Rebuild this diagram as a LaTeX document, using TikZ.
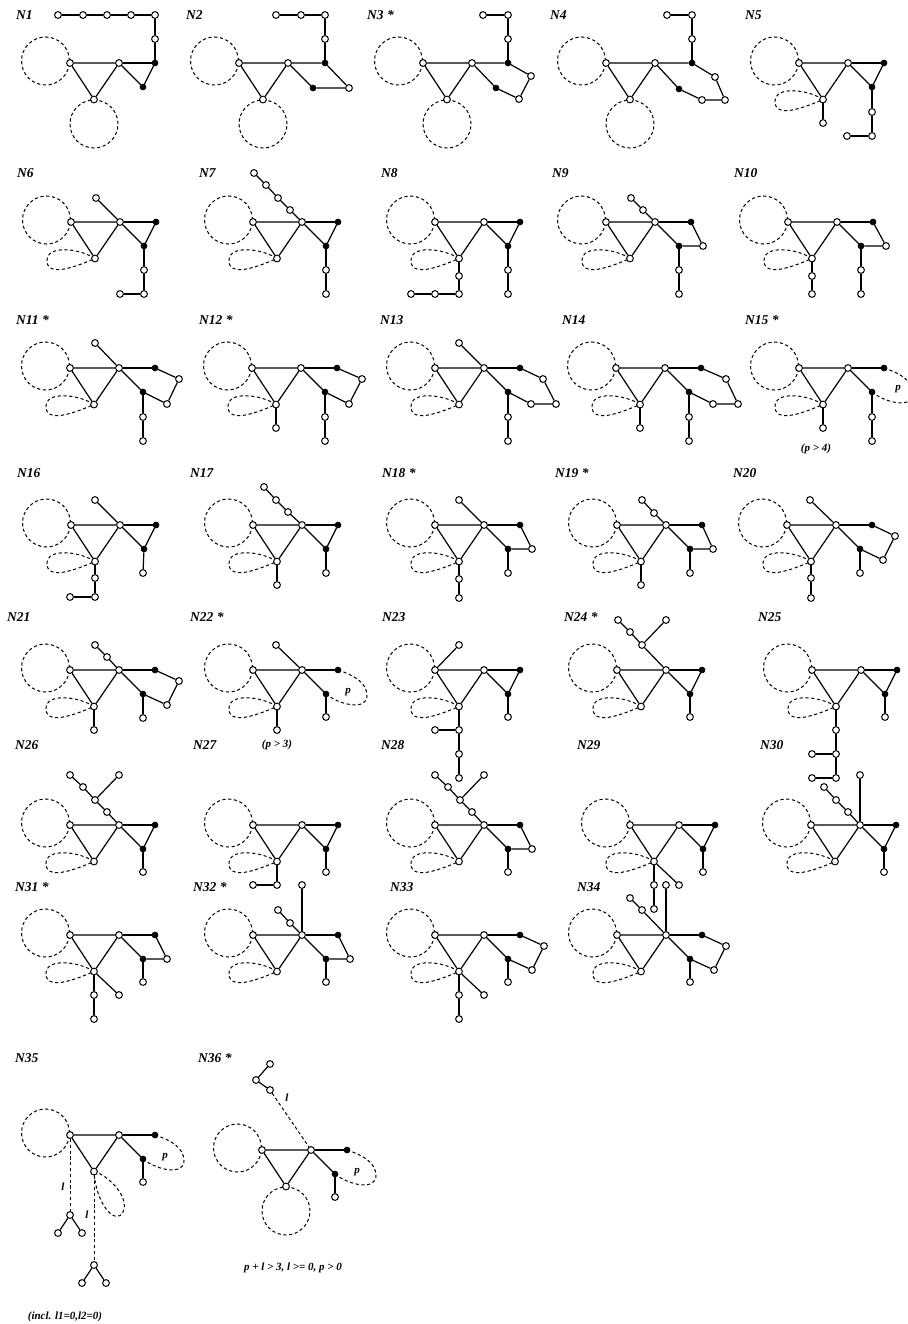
\documentclass[tikz,border=0pt]{standalone}
\usepackage{fontspec}
\setmainfont{Liberation Serif}
\tikzset{
  w/.style={circle,draw,fill=white,inner sep=0pt,minimum size=6.8pt,line width=1pt},
  bk/.style={circle,fill=black,draw=black,inner sep=0pt,minimum size=6pt,line width=0.6pt},
  e/.style={line width=1.2pt},
  dsh/.style={line width=1pt,dash pattern=on 3.2pt off 2.6pt},
  lab/.style={anchor=west,font=\fontsize{13.5}{15}\selectfont\bfseries\itshape,inner sep=0pt},
  note/.style={font=\fontsize{11}{13}\selectfont\bfseries\itshape,inner sep=0pt},
}
\newcommand\wn[3]{\node[w] (#1) at (#2,#3) {};}
\newcommand\bn[3]{\node[bk] (#1) at (#2,#3) {};}
\newcommand\ed[2]{\draw[e] (#1) -- (#2);}
\newcommand\tri[1]{\wn{#1a}{0}{0}\wn{#1b}{49}{0}\wn{#1c}{24}{36.5}%
  \draw[e] (#1a) -- (#1b) -- (#1c) -- (#1a);}
\newcommand\de[1]{\bn{#1d}{85}{0}\bn{#1e}{73}{24}\ed{#1b}{#1d}\ed{#1b}{#1e}}
\newcommand\lcirc{\draw[dsh] (-24.5,-2) circle[radius=24pt];}
\newcommand\bcirc{\draw[dsh] (24,61) circle[radius=24pt];}
\newcommand\tdrop{\draw[dsh] (24,36.5) .. controls (9,26.5) and (-24,22.5) .. (-24,38.5) .. controls (-24,52.5) and (-6,49.5) .. (24,36.5);}
\newcommand\ploop{\draw[dsh] (85,0) .. controls (100,5) and (114,12) .. (114,26) .. controls (114,40) and (88,36) .. (73,24);}
\begin{document}
\begin{tikzpicture}[x=1pt,y=-1pt]
\useasboundingbox (0,0) rectangle (907,1324);
% ---------------- Row 1
\begin{scope}[shift={(70,63)}]
\lcirc\bcirc\tri{p1}\de{p1}\ed{p1d}{p1e}
\wn{p1f}{85}{-24}\wn{p1g}{85}{-48}\wn{p1h}{61}{-48}\wn{p1i}{37}{-48}\wn{p1j}{13}{-48}\wn{p1k}{-12}{-48}
\draw[e] (p1d)--(p1f)--(p1g)--(p1h)--(p1i)--(p1j)--(p1k);
\end{scope}
\node[lab] (t1) at (16,15) {N1};
\begin{scope}[shift={(239,63)}]
\lcirc\bcirc\tri{p2}\bn{p2d}{86}{0}\bn{p2e}{74}{25}\wn{p2w}{110}{25}
\wn{p2f}{86}{-24}\wn{p2g}{86}{-48}\wn{p2h}{62}{-48}\wn{p2i}{37}{-48}
\draw[e] (p2b)--(p2d)--(p2w)--(p2e)--(p2b);
\draw[e] (p2d)--(p2f)--(p2g)--(p2h)--(p2i);
\end{scope}
\node[lab] (t2) at (186,15) {N2};
\begin{scope}[shift={(423,63)}]
\lcirc\bcirc\tri{p3}\bn{p3d}{85}{0}\bn{p3e}{73}{25}\wn{p3x}{108}{13}\wn{p3y}{96}{36}
\wn{p3f}{85}{-24}\wn{p3g}{85}{-48}\wn{p3h}{60}{-48}
\draw[e] (p3b)--(p3d)--(p3x)--(p3y)--(p3e)--(p3b);
\draw[e] (p3d)--(p3f)--(p3g)--(p3h);
\end{scope}
\node[lab] (t3) at (367,15) {N3 *};
\begin{scope}[shift={(606,63)}]
\lcirc\bcirc\tri{p4}\bn{p4d}{86}{0}\bn{p4e}{73}{26}\wn{p4x}{109}{14}\wn{p4y}{119}{37}\wn{p4z}{96}{37}
\wn{p4f}{86}{-24}\wn{p4g}{86}{-48}\wn{p4h}{61}{-48}
\draw[e] (p4b)--(p4d)--(p4x)--(p4y)--(p4z)--(p4e)--(p4b);
\draw[e] (p4d)--(p4f)--(p4g)--(p4h);
\end{scope}
\node[lab] (t4) at (550,15) {N4};
\begin{scope}[shift={(799,63)}]
\lcirc\tdrop\tri{p5}\de{p5}\ed{p5d}{p5e}
\wn{p5f}{73}{49}\wn{p5g}{73}{73}\wn{p5h}{48}{73}\wn{p5c1}{24}{60}
\draw[e] (p5e)--(p5f)--(p5g)--(p5h); \ed{p5c}{p5c1}
\end{scope}
\node[lab] (t5) at (745,15) {N5};
% ---------------- Row 2
\begin{scope}[shift={(71,222)}]
\lcirc\tdrop\tri{p6}\de{p6}\ed{p6d}{p6e}
\wn{p6u}{25}{-24}\ed{p6b}{p6u}
\wn{p6f}{73}{48}\wn{p6g}{73}{72}\wn{p6h}{49}{72}
\draw[e] (p6e)--(p6f)--(p6g)--(p6h);
\end{scope}
\node[lab] (t6) at (17,173) {N6};
\begin{scope}[shift={(253,222)}]
\lcirc\tdrop\tri{p7}\de{p7}\ed{p7d}{p7e}
\wn{p7u}{37}{-12}\wn{p7v}{25}{-24}\wn{p7x}{13}{-37}\wn{p7y}{1}{-49}
\draw[e] (p7b)--(p7u)--(p7v)--(p7x)--(p7y);
\wn{p7f}{73}{48}\wn{p7g}{73}{72}
\draw[e] (p7e)--(p7f)--(p7g);
\end{scope}
\node[lab] (t7) at (199,173) {N7};
\begin{scope}[shift={(435,222)}]
\lcirc\tdrop\tri{p8}\de{p8}\ed{p8d}{p8e}
\wn{p8f}{73}{48}\wn{p8g}{73}{72}
\draw[e] (p8e)--(p8f)--(p8g);
\wn{p8h}{24}{54}\wn{p8i}{24}{72}\wn{p8j}{0}{72}\wn{p8k}{-24}{72}
\draw[e] (p8c)--(p8h)--(p8i)--(p8j)--(p8k);
\end{scope}
\node[lab] (t8) at (381,173) {N8};
\begin{scope}[shift={(606,222)}]
\lcirc\tdrop\tri{p9}\de{p9}\wn{p9w}{97}{24}
\draw[e] (p9d)--(p9w)--(p9e);
\wn{p9u}{37}{-12}\wn{p9v}{25}{-24}
\draw[e] (p9b)--(p9u)--(p9v);
\wn{p9f}{73}{48}\wn{p9g}{73}{72}
\draw[e] (p9e)--(p9f)--(p9g);
\end{scope}
\node[lab] (t9) at (552,173) {N9};
\begin{scope}[shift={(788,222)}]
\lcirc\tdrop\tri{p10}\de{p10}\wn{p10w}{98}{24}
\draw[e] (p10d)--(p10w)--(p10e);
\wn{p10f}{73}{48}\wn{p10g}{73}{72}
\draw[e] (p10e)--(p10f)--(p10g);
\wn{p10h}{24}{54}\wn{p10i}{24}{72}
\draw[e] (p10c)--(p10h)--(p10i);
\end{scope}
\node[lab] (t10) at (734,173) {N10};
% ---------------- Row 3
\begin{scope}[shift={(70,368)}]
\lcirc\tdrop\tri{p11}\de{p11}\wn{p11x}{109}{11}\wn{p11y}{97}{36}
\draw[e] (p11d)--(p11x)--(p11y)--(p11e);
\wn{p11u}{25}{-25}\ed{p11b}{p11u}
\wn{p11f}{73}{49}\wn{p11g}{73}{73}
\draw[e] (p11e)--(p11f)--(p11g);
\end{scope}
\node[lab] (t11) at (16,320) {N11 *};
\begin{scope}[shift={(252,368)}]
\lcirc\tdrop\tri{p12}\de{p12}\wn{p12x}{110}{11}\wn{p12y}{97}{36}
\draw[e] (p12d)--(p12x)--(p12y)--(p12e);
\wn{p12f}{73}{49}\wn{p12g}{73}{73}
\draw[e] (p12e)--(p12f)--(p12g);
\wn{p12h}{24}{60}\ed{p12c}{p12h}
\end{scope}
\node[lab] (t12) at (199,320) {N12 *};
\begin{scope}[shift={(435,368)}]
\lcirc\tdrop\tri{p13}\de{p13}\wn{p13x}{108}{11}\wn{p13y}{121}{36}\wn{p13z}{96}{36}
\draw[e] (p13d)--(p13x)--(p13y)--(p13z)--(p13e);
\wn{p13u}{24}{-25}\ed{p13b}{p13u}
\wn{p13f}{73}{49}\wn{p13g}{73}{73}
\draw[e] (p13e)--(p13f)--(p13g);
\end{scope}
\node[lab] (t13) at (380,320) {N13};
\begin{scope}[shift={(616,368)}]
\lcirc\tdrop\tri{p14}\de{p14}\wn{p14x}{110}{11}\wn{p14y}{122}{36}\wn{p14z}{97}{36}
\draw[e] (p14d)--(p14x)--(p14y)--(p14z)--(p14e);
\wn{p14f}{73}{49}\wn{p14g}{73}{73}
\draw[e] (p14e)--(p14f)--(p14g);
\wn{p14h}{24}{60}\ed{p14c}{p14h}
\end{scope}
\node[lab] (t14) at (562,320) {N14};
\begin{scope}[shift={(799,368)}]
\lcirc\tdrop\ploop\tri{p15}\de{p15}
\node[note] (p15p) at (99,21) {p};
\wn{p15f}{73}{49}\wn{p15g}{73}{73}
\draw[e] (p15e)--(p15f)--(p15g);
\wn{p15h}{24}{60}\ed{p15c}{p15h}
\node[note] (p15n) at (17,81) {(p > 4)};
\end{scope}
\node[lab] (t15) at (745,320) {N15 *};
% ---------------- Row 4
\begin{scope}[shift={(71,525)}]
\lcirc\tdrop\tri{p16}\de{p16}\ed{p16d}{p16e}
\wn{p16u}{24}{-25}\ed{p16b}{p16u}
\wn{p16f}{72}{48}\ed{p16e}{p16f}
\wn{p16h}{24}{53}\wn{p16i}{24}{72}\wn{p16j}{-1}{72}
\draw[e] (p16c)--(p16h)--(p16i)--(p16j);
\end{scope}
\node[lab] (t16) at (17,473) {N16};
\begin{scope}[shift={(253,525)}]
\lcirc\tdrop\tri{p17}\de{p17}\ed{p17d}{p17e}
\wn{p17u}{35}{-13}\wn{p17v}{23}{-25}\wn{p17x}{11}{-38}
\draw[e] (p17b)--(p17u)--(p17v)--(p17x);
\wn{p17f}{73}{48}\ed{p17e}{p17f}
\wn{p17h}{24}{60}\ed{p17c}{p17h}
\end{scope}
\node[lab] (t17) at (190,473) {N17};
\begin{scope}[shift={(435,525)}]
\lcirc\tdrop\tri{p18}\de{p18}\wn{p18w}{97}{24}
\draw[e] (p18d)--(p18w)--(p18e);
\wn{p18u}{24}{-25}\ed{p18b}{p18u}
\wn{p18f}{73}{48}\ed{p18e}{p18f}
\wn{p18h}{24}{54}\wn{p18i}{24}{73}
\draw[e] (p18c)--(p18h)--(p18i);
\end{scope}
\node[lab] (t18) at (382,473) {N18 *};
\begin{scope}[shift={(617,525)}]
\lcirc\tdrop\tri{p19}\de{p19}\wn{p19w}{96}{24}
\draw[e] (p19d)--(p19w)--(p19e);
\wn{p19u}{37}{-12}\wn{p19v}{25}{-25}
\draw[e] (p19b)--(p19u)--(p19v);
\wn{p19f}{73}{48}\ed{p19e}{p19f}
\wn{p19h}{24}{60}\ed{p19c}{p19h}
\end{scope}
\node[lab] (t19) at (555,473) {N19 *};
\begin{scope}[shift={(787,525)}]
\lcirc\tdrop\tri{p20}\de{p20}\wn{p20x}{108}{11}\wn{p20y}{96}{35}
\draw[e] (p20d)--(p20x)--(p20y)--(p20e);
\wn{p20u}{23}{-25}\ed{p20b}{p20u}
\wn{p20f}{73}{48}\ed{p20e}{p20f}
\wn{p20h}{24}{53}\wn{p20i}{24}{73}
\draw[e] (p20c)--(p20h)--(p20i);
\end{scope}
\node[lab] (t20) at (733,473) {N20};
% ---------------- Row 5
\begin{scope}[shift={(70,670)}]
\lcirc\tdrop\tri{p21}\de{p21}\wn{p21x}{109}{11}\wn{p21y}{97}{35}
\draw[e] (p21d)--(p21x)--(p21y)--(p21e);
\wn{p21u}{37}{-13}\wn{p21v}{25}{-25}
\draw[e] (p21b)--(p21u)--(p21v);
\wn{p21f}{73}{48}\ed{p21e}{p21f}
\wn{p21h}{24}{60}\ed{p21c}{p21h}
\end{scope}
\node[lab] (t21) at (7,617) {N21};
\begin{scope}[shift={(253,670)}]
\lcirc\tdrop\ploop\tri{p22}\de{p22}
\node[note] (p22p) at (95,22) {p};
\wn{p22u}{23}{-25}\ed{p22b}{p22u}
\wn{p22f}{73}{47}\ed{p22e}{p22f}
\wn{p22h}{24}{60}\ed{p22c}{p22h}
\node[note] (p22n) at (24,75) {(p > 3)};
\end{scope}
\node[lab] (t22) at (190,617) {N22 *};
\begin{scope}[shift={(435,670)}]
\lcirc\tdrop\tri{p23}\de{p23}\ed{p23d}{p23e}
\wn{p23u}{24}{-25}\ed{p23a}{p23u}
\wn{p23f}{73}{47}\ed{p23e}{p23f}
\wn{p23h}{24}{60}\wn{p23j}{0}{60}\wn{p23i}{24}{84}\wn{p23k}{24}{108}
\draw[e] (p23c)--(p23h)--(p23i)--(p23k); \ed{p23h}{p23j}
\end{scope}
\node[lab] (t23) at (382,617) {N23};
\begin{scope}[shift={(617,670)}]
\lcirc\tdrop\tri{p24}\de{p24}\ed{p24d}{p24e}
\wn{p24y}{25}{-25}\wn{p24u}{13}{-38}\wn{p24v}{1}{-50}\wn{p24r}{49}{-50}
\draw[e] (p24b)--(p24y)--(p24u)--(p24v); \ed{p24y}{p24r}
\wn{p24f}{73}{47}\ed{p24e}{p24f}
\end{scope}
\node[lab] (t24) at (564,617) {N24 *};
\begin{scope}[shift={(812,670)}]
\lcirc\tdrop\tri{p25}\de{p25}\ed{p25d}{p25e}
\wn{p25f}{73}{47}\ed{p25e}{p25f}
\wn{p25h}{24}{60}\wn{p25i}{24}{84}\wn{p25k}{24}{108}\wn{p25j}{0}{84}\wn{p25l}{0}{108}
\draw[e] (p25c)--(p25h)--(p25i)--(p25k); \ed{p25i}{p25j}\ed{p25k}{p25l}
\end{scope}
\node[lab] (t25) at (758,617) {N25};
% ---------------- Row 6
\begin{scope}[shift={(70,825)}]
\lcirc\tdrop\tri{p26}\de{p26}\ed{p26d}{p26e}
\wn{p26s}{37}{-13}\wn{p26y}{25}{-25}\wn{p26u}{13}{-38}\wn{p26v}{0}{-50}\wn{p26r}{49}{-50}
\draw[e] (p26b)--(p26s)--(p26y)--(p26u)--(p26v); \ed{p26y}{p26r}
\wn{p26f}{73}{47}\ed{p26e}{p26f}
\end{scope}
\node[lab] (t26) at (15,745) {N26};
\begin{scope}[shift={(253,825)}]
\lcirc\tdrop\tri{p27}\de{p27}\ed{p27d}{p27e}
\wn{p27f}{73}{47}\ed{p27e}{p27f}
\wn{p27h}{24}{60}\wn{p27j}{0}{60}
\draw[e] (p27c)--(p27h)--(p27j);
\end{scope}
\node[lab] (t27) at (193,745) {N27};
\begin{scope}[shift={(435,825)}]
\lcirc\tdrop\tri{p28}\de{p28}\wn{p28w}{97}{24}
\draw[e] (p28d)--(p28w)--(p28e);
\wn{p28s}{37}{-13}\wn{p28y}{25}{-25}\wn{p28u}{13}{-38}\wn{p28v}{0}{-50}\wn{p28r}{49}{-50}
\draw[e] (p28b)--(p28s)--(p28y)--(p28u)--(p28v); \ed{p28y}{p28r}
\wn{p28f}{73}{47}\ed{p28e}{p28f}
\end{scope}
\node[lab] (t28) at (381,745) {N28};
\begin{scope}[shift={(630,825)}]
\lcirc\tdrop\tri{p29}\de{p29}\ed{p29d}{p29e}
\wn{p29f}{73}{47}\ed{p29e}{p29f}
\wn{p29h}{24}{60}\wn{p29i}{24}{84}\wn{p29j}{49}{60}
\draw[e] (p29c)--(p29h)--(p29i); \ed{p29c}{p29j}
\end{scope}
\node[lab] (t29) at (577,745) {N29};
\begin{scope}[shift={(811,825)}]
\lcirc\tdrop\tri{p30}\de{p30}\ed{p30d}{p30e}
\wn{p30u}{37}{-13}\wn{p30v}{25}{-25}\wn{p30x}{13}{-38}\wn{p30r}{49}{-50}
\draw[e] (p30b)--(p30u)--(p30v)--(p30x); \ed{p30b}{p30r}
\wn{p30f}{73}{47}\ed{p30e}{p30f}
\end{scope}
\node[lab] (t30) at (760,745) {N30};
% ---------------- Row 7
\begin{scope}[shift={(70,935)}]
\lcirc\tdrop\tri{p31}\de{p31}\wn{p31w}{97}{24}
\draw[e] (p31d)--(p31w)--(p31e);
\wn{p31f}{73}{47}\ed{p31e}{p31f}
\wn{p31h}{24}{60}\wn{p31i}{24}{84}\wn{p31j}{49}{60}
\draw[e] (p31c)--(p31h)--(p31i); \ed{p31c}{p31j}
\end{scope}
\node[lab] (t31) at (15,887) {N31 *};
\begin{scope}[shift={(253,935)}]
\lcirc\tdrop\tri{p32}\de{p32}\wn{p32w}{97}{24}
\draw[e] (p32d)--(p32w)--(p32e);
\wn{p32u}{37}{-12}\wn{p32v}{25}{-25}\wn{p32r}{49}{-50}
\draw[e] (p32b)--(p32u)--(p32v); \ed{p32b}{p32r}
\wn{p32f}{73}{47}\ed{p32e}{p32f}
\end{scope}
\node[lab] (t32) at (193,887) {N32 *};
\begin{scope}[shift={(435,935)}]
\lcirc\tdrop\tri{p33}\de{p33}\wn{p33x}{109}{11}\wn{p33y}{97}{35}
\draw[e] (p33d)--(p33x)--(p33y)--(p33e);
\wn{p33f}{73}{47}\ed{p33e}{p33f}
\wn{p33h}{24}{60}\wn{p33i}{24}{84}\wn{p33j}{49}{60}
\draw[e] (p33c)--(p33h)--(p33i); \ed{p33c}{p33j}
\end{scope}
\node[lab] (t33) at (390,887) {N33};
\begin{scope}[shift={(617,935)}]
\lcirc\tdrop\tri{p34}\de{p34}\wn{p34x}{109}{11}\wn{p34y}{97}{35}
\draw[e] (p34d)--(p34x)--(p34y)--(p34e);
\wn{p34u}{25}{-25}\wn{p34v}{13}{-37}\wn{p34r}{49}{-50}
\draw[e] (p34b)--(p34u)--(p34v); \ed{p34b}{p34r}
\wn{p34f}{73}{47}\ed{p34e}{p34f}
\end{scope}
\node[lab] (t34) at (577,887) {N34};
% ---------------- Row 8
\begin{scope}[shift={(70,1135)}]
\lcirc\ploop
\draw[dsh] (24,36.5) .. controls (38,40) and (60,62) .. (53,77) .. controls (46,91) and (26,70) .. (24,36.5);
\tri{p35}\de{p35}
\node[note] (p35p) at (95,22) {p};
\wn{p35f}{73}{47}\ed{p35e}{p35f}
\wn{p35q}{0}{80}\wn{p35q1}{-12}{98}\wn{p35q2}{12}{98}
\draw[dsh] (p35a) -- (p35q); \draw[e] (p35q1)--(p35q)--(p35q2);
\node[note] (p35l1) at (-7,52) {l};
\wn{p35r}{24}{130}\wn{p35r1}{12}{148}\wn{p35r2}{36}{148}
\draw[dsh] (p35c) -- (p35r); \draw[e] (p35r1)--(p35r)--(p35r2);
\node[note] (p35l2) at (17,80) {l};
\end{scope}
\node[lab] (t35) at (15,1058) {N35};
\node[note] (n35) at (65,1317) {(incl. l1=0,l2=0)};
\begin{scope}[shift={(262,1150)}]
\lcirc\bcirc\ploop\tri{p36}\de{p36}
\node[note] (p36p) at (95,22) {p};
\wn{p36f}{73}{47}\ed{p36e}{p36f}
\wn{p36q}{8}{-60}\wn{p36q1}{-6}{-70}\wn{p36q2}{8}{-86}
\draw[e] (p36q2)--(p36q1)--(p36q);
\draw[dsh] (p36q) -- (p36b);
\node[note] (p36l) at (25,-52) {l};
\end{scope}
\node[lab] (t36) at (198,1058) {N36 *};
\node[note] (n36) at (293,1268) {p + l > 3, l >= 0, p > 0};
\end{tikzpicture}
\end{document}
